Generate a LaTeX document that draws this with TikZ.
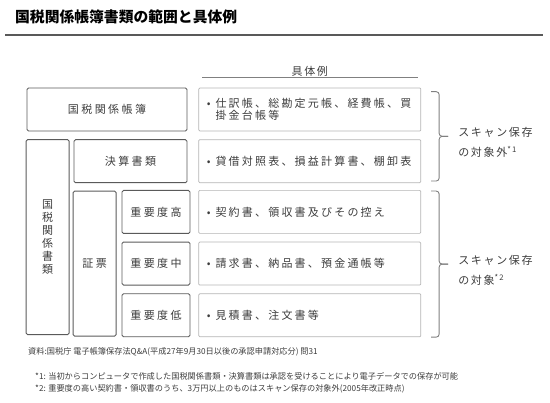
\documentclass[tikz,border=0pt]{standalone}
\usepackage{fontspec}
\setmainfont{Noto Sans CJK JP}
\newfontfamily\boxfont{Noto Sans CJK JP}[LetterSpace=15]
\newfontfamily\exfont{Noto Sans CJK JP}[LetterSpace=20]
\newfontfamily\catfont{Noto Sans CJK JP}[LetterSpace=22]
\usetikzlibrary{positioning, calc}
\definecolor{inkgray}{HTML}{3C3C3C}
\definecolor{framegray}{HTML}{5A5A5A}
\definecolor{lightframe}{HTML}{B4B4B4}
\newcommand{\bul}{\hspace*{5pt}•\hspace{5pt}}

\begin{document}
\begin{tikzpicture}[
  x=1pt, y=1pt,
  node distance=8pt and 11pt,
  text=inkgray,
  catbox/.style={draw=framegray, line width=0.9pt, rounded corners=1.5pt, minimum height=43pt, inner sep=0pt, align=center, font=\catfont\fontsize{11}{13}\selectfont},
  examplebox/.style={draw=lightframe, line width=0.7pt, rounded corners=1pt, minimum width=222pt, minimum height=43pt, text width=216pt, inner sep=0pt, align=left, font=\exfont\fontsize{11}{12}\selectfont},
  brace/.style={draw=gray, line width=0.9pt, rounded corners=3pt},
  scanlabel/.style={anchor=west, inner sep=0pt, align=left, font=\boxfont\fontsize{11}{20}\selectfont},
  note/.style={anchor=west, inner sep=0pt, font=\normalfont\fontsize{8.2}{10}\selectfont}
]
\useasboundingbox (0,0) rectangle (550,403);

% TITLE
\node[anchor=west, inner sep=0pt, text=black, font=\normalfont\bfseries\fontsize{14.8}{16}\selectfont] (title) at (15,386) {国税関係帳簿書類の範囲と具体例};
\draw[line width=1.8pt, gray!70!black] (5,368) -- (543,368);

% ROW 1: LEDGERS
\node[catbox, minimum width=160pt] (ledger) at (107,293.5) {国税関係帳簿};
\node[examplebox, right=11pt of ledger] (ex1) {\bul 仕訳帳、総勘定元帳、経費帳、買\\\hphantom{\bul}掛金台帳等};

% EXAMPLES HEADER
\node[above=11pt of ex1, inner sep=0pt, font=\boxfont\fontsize{11}{13}\selectfont] (hdr) {具体例};
\draw[gray, line width=1.2pt] ([xshift=4pt,yshift=10pt]ex1.north west) -- ([xshift=-3pt,yshift=10pt]ex1.north east);

% ROW 2: FINANCIAL STATEMENTS
\node[examplebox, below=8pt of ex1] (ex2) {\bul 貸借対照表、損益計算書、棚卸表};
\node[catbox, minimum width=113pt, left=11pt of ex2] (closing) {決算書類};

% ROWS 3-5: VOUCHERS
\node[examplebox, below=7pt of ex2] (ex3) {\bul 契約書、領収書及びその控え};
\node[examplebox, below=8pt of ex3] (ex4) {\bul 請求書、納品書、預金通帳等};
\node[examplebox, below=8pt of ex4] (ex5) {\bul 見積書、注文書等};
\node[catbox, minimum width=68pt, left=8pt of ex3] (high) {重要度高};
\node[catbox, minimum width=68pt, left=8pt of ex4] (mid) {重要度中};
\node[catbox, minimum width=68pt, left=8pt of ex5] (low) {重要度低};
\node[catbox, minimum width=43pt, minimum height=145pt, left=5pt of mid] (voucher) {証票};
\node[catbox, minimum width=43pt, minimum height=195pt, anchor=north east] (documents) at ($(closing.north west)+(-4pt,0)$) {国\\税\\関\\係\\書\\類};

% BRACKETS
\coordinate (b1t) at ([xshift=10pt,yshift=-4pt]ex1.north east);
\coordinate (b1b) at ([xshift=10pt,yshift=2pt]ex2.south east);
\coordinate (b1m) at ($(b1t)!0.5!(b1b)+(17pt,0)$);
\draw[brace] (b1t) -- ++(8pt,0) |- (b1m);
\draw[brace] (b1b) -- ++(8pt,0) |- (b1m);
\node[scanlabel] (scan1) at ([xshift=10pt,yshift=-6pt]b1m) {スキャン保存\\の対象外\textsuperscript{*1}};

\coordinate (b2t) at ([xshift=10pt,yshift=-1pt]ex3.north east);
\coordinate (b2b) at ([xshift=10pt]ex5.south east);
\coordinate (b2m) at ($(b2t)!0.5!(b2b)+(17pt,0)$);
\draw[brace] (b2t) -- ++(8pt,0) |- (b2m);
\draw[brace] (b2b) -- ++(8pt,0) |- (b2m);
\node[scanlabel] (scan2) at ([xshift=10pt,yshift=-6pt]b2m) {スキャン保存\\の対象\textsuperscript{*2}};

% NOTES
\node[note] (source) at (28,51) {資料:国税庁\ 電子帳簿保存法Q\&A(平成27年9月30日以後の承認申請対応分)\ 問31};
\node[note] (fn1) at (35,27) {*1: 当初からコンピュータで作成した国税関係書類・決算書類は承認を受けることにより電子データでの保存が可能};
\node[note] (fn2) at (35,14) {*2: 重要度の高い契約書・領収書のうち、3万円以上のものはスキャン保存の対象外(2005年改正時点)};

\end{tikzpicture}
\end{document}
